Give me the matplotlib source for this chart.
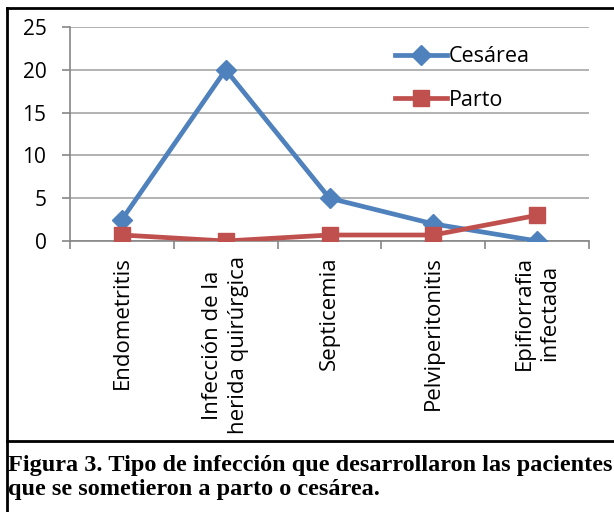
import matplotlib
matplotlib.use("Agg")
import matplotlib.pyplot as plt
from matplotlib.lines import Line2D

categories = ["Endometritis", "Infección de la\nherida quirúrgica", "Septicemia",
              "Pelviperitonitis", "Epifiorrafia\ninfectada"]
cesarea = [2.5, 20, 5, 2, 0]
parto = [0.7, 0, 0.7, 0.7, 3]
yticks = [0, 5, 10, 15, 20, 25]
caption = ("Figura 3. Tipo de infección que desarrollaron las pacientes\n"
           "que se sometieron a parto o cesárea.")

plt.rcParams['font.family'] = ['Open Sans', 'DejaVu Sans']

fig = plt.figure(figsize=(6.14, 5.12), dpi=100)
ax = fig.add_axes([70/614, 1-241/512, (589-70)/614, (241-27)/512])

x = list(range(len(categories)))
ax.plot(x, cesarea, color='#4F81BD', lw=3.4, marker='D', ms=10.5, label='Cesárea', zorder=3)
ax.plot(x, parto, color='#C0504D', lw=3.4, marker='s', ms=11, label='Parto', zorder=3)

ax.set_xlim(-0.5, len(categories)-0.5)
ax.set_ylim(0, 25)
ax.set_yticks(yticks)
ax.set_yticklabels([str(t) for t in yticks], fontsize=15)
ax.yaxis.grid(True, color='#A6A6A6', lw=1.2)
ax.set_axisbelow(True)
ax.set_xticks(x)
ax.set_xticklabels(categories, rotation=90, fontsize=16, va='top', ha='center',
                   multialignment='center', linespacing=1.3)
ax.tick_params(axis='x', length=0, pad=11)
ax.set_xticks([i - 0.5 for i in range(len(categories)+1)], minor=True)
ax.tick_params(axis='x', which='minor', length=6, color='#868686', width=1.2)
ax.tick_params(axis='y', length=6, color='#868686', width=1.2, pad=11)
for s in ['top', 'right']:
    ax.spines[s].set_visible(False)
for s in ['left', 'bottom']:
    ax.spines[s].set_color('#868686')
    ax.spines[s].set_linewidth(1.2)

ax.legend(loc='upper left', bbox_to_anchor=(0.61, 0.95), frameon=False, fontsize=15.5,
          handlelength=2.4, handletextpad=0.1, labelspacing=1.05, borderaxespad=0)

# borders
fig.add_artist(Line2D([7/614, 7/614], [0, 1-8/512], transform=fig.transFigure, color='black', lw=2))
fig.add_artist(Line2D([7/614, 1], [1-8/512, 1-8/512], transform=fig.transFigure, color='black', lw=2))
fig.add_artist(Line2D([7/614, 1], [1-441/512, 1-441/512], transform=fig.transFigure, color='black', lw=2))

fig.text(8/614, 1-455/512, caption, fontsize=17.5, fontweight='bold', va='top', ha='left',
         family='Liberation Serif', linespacing=1.2)

fig.savefig('out.png', dpi=100)
